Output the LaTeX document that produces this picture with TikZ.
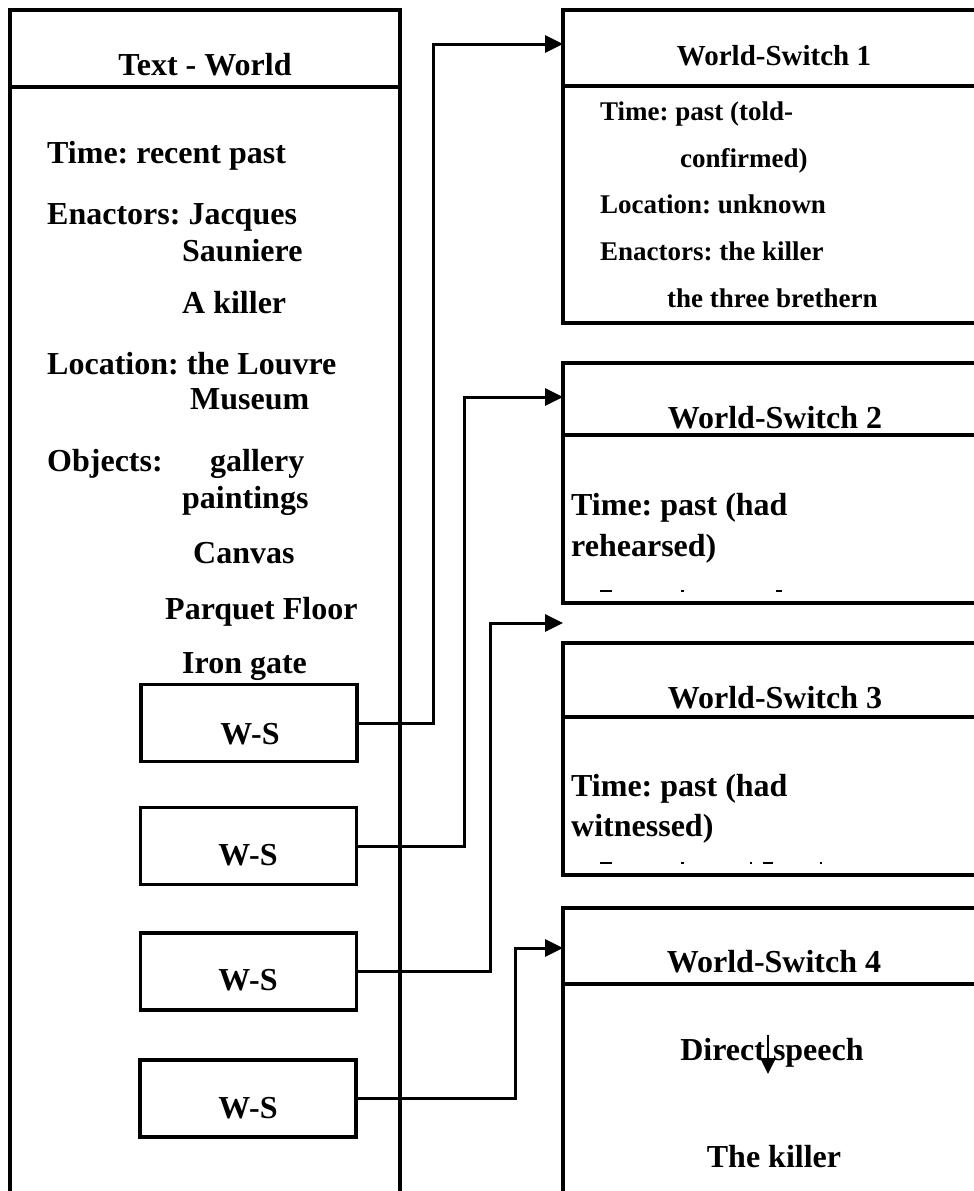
\documentclass[tikz,border=0pt]{standalone}
\usepackage{fontspec}
\setmainfont{Liberation Serif}
\usetikzlibrary{arrows.meta}
\frenchspacing
\tikzset{
  boxline/.style={line width=3.5pt, line cap=rect},
  conn/.style={line width=3pt, -{Triangle[length=18pt,width=17pt]}},
  wsbox/.style={draw, line width=3.5pt, minimum width=216pt, minimum height=77pt, inner sep=0pt},
  lbl/.style={inner sep=0pt, anchor=base west, font=\fontsize{32}{38}\selectfont\bfseries},
  lblc/.style={inner sep=0pt, anchor=base, font=\fontsize{32}{38}\selectfont\bfseries},
  smalllbl/.style={inner sep=0pt, anchor=base west, font=\fontsize{27}{32}\selectfont\bfseries},
  smalltitle/.style={inner sep=0pt, anchor=base, font=\fontsize{29}{34}\selectfont\bfseries},
  sliver/.style={fill=black, draw=none}
}
\begin{document}
\begin{tikzpicture}[x=1pt,y=-1pt]
\useasboundingbox (0,0) rectangle (974,1191);
\clip (0,0) rectangle (974,1191);
\fill[white] (0,0) rectangle (974,1191);

% Left Text-World box
\draw[boxline] (10,1200) -- (10,10) -- (400,10) -- (400,1200);
\draw[boxline] (10,87) -- (400,87);
\node[lblc] (twtitle) at (205,75) {Text - World};
\node[lbl] (tw1) at (47,163) {Time: recent past};
\node[lbl] (tw2) at (47,224) {Enactors: Jacques};
\node[lbl] (tw3) at (182,261) {Sauniere};
\node[lbl] (tw4) at (182,313) {A killer};
\node[lbl] (tw5) at (47,374) {Location: the Louvre};
\node[lbl] (tw6) at (190,409) {Museum};
\node[lbl] (tw7) at (47,471) {Objects:};
\node[lbl] (tw7b) at (210,471) {gallery};
\node[lbl] (tw8) at (182,508) {paintings};
\node[lbl] (tw9) at (193,563) {Canvas};
\node[lbl] (tw10) at (165,619) {Parquet Floor};
\node[lbl] (tw11) at (182,673) {Iron gate};

% W-S boxes
\node[wsbox, fill=white] (ws1) at (249,723) {};
\node[wsbox, fill=white] (ws2) at (248.5,846) {};
\node[wsbox, fill=white] (ws3) at (248.5,971.5) {};
\node[wsbox, fill=white] (ws4) at (248,1098.5) {};
\node[lblc] (ws1t) at (250,744) {W-S};
\node[lblc] (ws2t) at (248,865) {W-S};
\node[lblc] (ws3t) at (248,990) {W-S};
\node[lblc] (ws4t) at (248,1118) {W-S};

% World-Switch 1
\draw[boxline] (563,10) rectangle (1000,323);
\draw[boxline] (563,86) -- (1000,86);
\node[smalltitle] (s1t) at (774,65) {World-Switch 1};
\node[smalllbl] (s1a) at (600,120) {Time: past (told-};
\node[smalllbl] (s1b) at (680,167) {confirmed)};
\node[smalllbl] (s1c) at (600,213) {Location: unknown};
\node[smalllbl] (s1d) at (600,260) {Enactors: the killer};
\node[smalllbl] (s1e) at (667,307) {the three brethern};

% World-Switch 2
\draw[boxline] (563,363) rectangle (1000,603);
\draw[boxline] (563,435) -- (1000,435);
\node[lblc] (s2t) at (775,428) {World-Switch 2};
\node[lbl] (s2a) at (571,515) {Time: past (had};
\node[lbl] (s2b) at (571,556) {rehearsed)};
\fill[sliver] (600,590) rectangle (612,592);
\fill[sliver] (681,590) rectangle (684,592);
\fill[sliver] (776,590) rectangle (782,592);

% World-Switch 3
\draw[boxline] (563,643) rectangle (1000,875);
\draw[boxline] (563,717) -- (1000,717);
\node[lblc] (s3t) at (775,708) {World-Switch 3};
\node[lbl] (s3a) at (571,796) {Time: past (had};
\node[lbl] (s3b) at (571,836) {witnessed)};
\fill[sliver] (600,862) rectangle (612,864);
\fill[sliver] (681,862) rectangle (684,864);
\fill[sliver] (750,862) rectangle (752,864);
\fill[sliver] (763,862) rectangle (773,864);
\fill[sliver] (820,862) rectangle (822,864);

% World-Switch 4
\draw[boxline] (563,1200) -- (563,908) -- (1000,908);
\draw[boxline] (563,984) -- (1000,984);
\node[lblc] (s4t) at (774,972) {World-Switch 4};
\node[lblc] (s4a) at (772,1060) {Direct speech};
\node[lblc] (s4b) at (774,1167) {The killer};
\coordinate (dsa) at (768,1035);
\coordinate (dsb) at (768,1074);
\draw[line width=2.5pt, -{Triangle[length=16pt,width=15pt]}] (dsa) -- (dsb);

% connectors
\coordinate (t1) at (563,44);
\coordinate (t2) at (563,397);
\coordinate (t3) at (563,623);
\coordinate (t4) at (563,948);
\draw[conn] (ws1.east) -- (433,723) |- (t1);
\draw[conn] (ws2.east) -- (464,846) |- (t2);
\draw[conn] (ws3.east) -- (490,971.5) |- (t3);
\draw[conn] (ws4.east) -- (515,1098.5) |- (t4);
\end{tikzpicture}
\end{document}
